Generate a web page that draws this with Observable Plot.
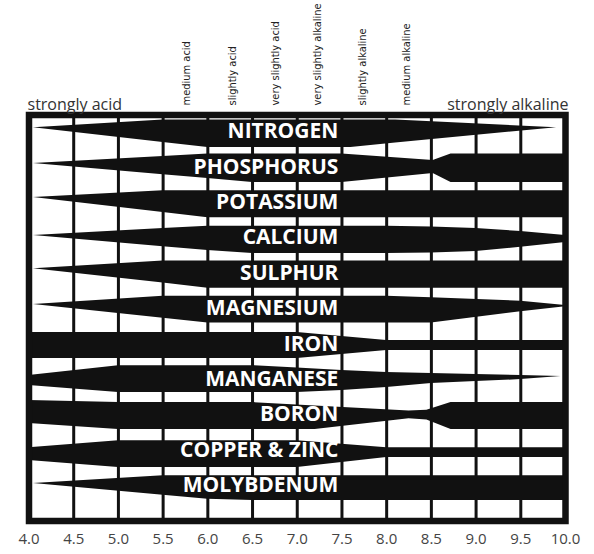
<!DOCTYPE html>
<html>
<head>
<meta charset="utf-8">
<script src="https://cdn.jsdelivr.net/npm/d3@7"></script>
<script src="https://cdn.jsdelivr.net/npm/@observablehq/plot@0.6"></script>
<style>
  html, body { margin: 0; padding: 0; background: #fff; }
  #chart { width: 594px; height: 554px; }
</style>
</head>
<body>
<div id="chart"></div>
<script>
// pH tick labels along the bottom
const phTicks = [4, 4.5, 5, 5.5, 6, 6.5, 7, 7.5, 8, 8.5, 9, 9.5, 10];

// nutrient rows (top to bottom)
const nutrients = ["NITROGEN", "PHOSPHORUS", "POTASSIUM", "CALCIUM", "SULPHUR", "MAGNESIUM",
                   "IRON", "MANGANESE", "BORON", "COPPER & ZINC", "MOLYBDENUM"];

// zone names written vertically above the chart, and the pH they sit at
const zoneNames = ["medium acid", "slightly acid", "very slightly acid",
                   "very slightly alkaline", "slightly alkaline", "medium alkaline"];
const zonePH = [5.73, 6.25, 6.73, 7.2, 7.7, 8.2];

// availability profiles: [pH, upper edge, lower edge] (−1 = full upward, +1 = full downward)
const nitrogen   = [[4.05,-0.45,-0.45],[5.5,-1,0.6],[6.0,-1,0.96],[7.6,-1,0.96],[8.1,-1,0.65],[9.9,-0.45,-0.45]];
const phosphorus = [[4.05,-0.42,-0.42],[5.5,-0.93,0.38],[6.0,-1.1,0.65],[6.5,-1.1,0.94],[7.5,-1.1,0.94],[8.52,-0.64,0.3],[8.72,-1.1,0.94],[10,-1.1,0.94]];
const potassium  = [[4.05,-0.52,-0.52],[5.5,-1,0.55],[6.0,-1,0.92],[10,-1,0.92]];
const calcium    = [[4.05,-0.34,-0.34],[5.5,-0.84,0.46],[6.0,-1,0.74],[6.5,-1,0.95],[8.0,-1,0.95],[8.5,-0.95,0.92],[9.0,-0.84,0.8],[9.5,-0.62,0.5],[10,-0.34,0.16]];
const sulphur    = [[4.05,-0.5,-0.5],[5.5,-1.05,0.52],[6.0,-1.05,0.9],[10,-1.05,0.9]];
const magnesium  = [[4.05,-0.46,-0.46],[5.5,-1.05,0.51],[6.0,-1.05,0.85],[8.0,-1.05,0.85],[8.5,-0.95,0.85],[9.5,-0.7,0.05],[10,-0.4,-0.3]];
const iron       = [[4.0,-1,0.86],[7.0,-1,0.86],[8.0,-0.42,0.29],[10,-0.42,0.29]];
const manganese  = [[4.0,-0.45,0.26],[5.0,-1.16,0.76],[6.5,-1.16,0.76],[7.0,-0.99,0.76],[7.5,-0.81,0.62],[8.0,-0.66,0.41],[8.5,-0.59,0.12],[9.0,-0.52,-0.02],[9.5,-0.45,-0.16],[9.95,-0.38,-0.38]];
const boron      = [[4.0,-1.19,0.45],[5.0,-1.05,0.88],[6.5,-1.05,0.88],[7.2,-0.81,0.88],[8.25,-0.45,0.1],[8.45,-0.5,0.2],[8.72,-1.05,0.88],[10,-1.05,0.88]];
const copperZinc = [[4.0,-0.36,0.56],[5.0,-0.86,1.06],[7.0,-0.86,1.06],[8.0,-0.36,0.35],[10,-0.36,0.35]];
const molybdenum = [[4.05,-0.32,-0.32],[5.5,-0.89,0.51],[6.0,-0.89,0.8],[6.5,-0.89,0.89],[10,-0.89,0.89]];

const profiles = [nitrogen, phosphorus, potassium, calcium, sulphur, magnesium,
                  iron, manganese, boron, copperZinc, molybdenum];

// layout constants
const HALF = 0.395;        // half band thickness in row units
const LABEL_PH = 7.46;     // right edge of the band names

const bands = profiles.flatMap((pts, i) =>
  pts.map(([ph, up, lo]) => ({name: nutrients[i], ph, y1: i + up * HALF, y2: i + lo * HALF}))
);
const labels = nutrients.map((name, i) => ({name, row: i}));
const zones = zoneNames.map((name, i) => ({name, ph: zonePH[i]}));

const chart = Plot.plot({
  width: 594,
  height: 554,
  marginLeft: 28.5,
  marginRight: 29,
  marginTop: 114.5,
  marginBottom: 33.5,
  style: {fontFamily: "'Open Sans', sans-serif", background: "#fff", color: "#444"},
  x: {domain: [4, 10], axis: null},
  y: {domain: [10.93, -0.537], axis: null},
  marks: [
    Plot.ruleX(phTicks, {x: d => d, stroke: "#111", strokeWidth: 3}),
    Plot.area(bands, {x1: "ph", y1: "y1", y2: "y2", z: "name", fill: "#111", curve: "linear"}),
    Plot.frame({stroke: "#111", strokeWidth: 6.5}),
    Plot.text(labels, {x: () => LABEL_PH, y: "row", text: "name", textAnchor: "end", dy: -2.5,
      fill: "#fff", fontWeight: "bold", fontSize: 21, fontFamily: "'Open Sans', sans-serif"}),
    Plot.axisX({ticks: phTicks, tickFormat: d3.format(".1f"), tickSize: 0, tickPadding: 12,
      fontSize: 15, label: null, fill: "#444"}),
    Plot.text(["strongly acid"], {x: () => 4, frameAnchor: "top", dy: -16, dx: -1.5,
      textAnchor: "start", fontSize: 16, fill: "#333"}),
    Plot.text(["strongly alkaline"], {x: () => 10, frameAnchor: "top", dy: -16, dx: 3,
      textAnchor: "end", fontSize: 16, fill: "#333"}),
    Plot.text(zones, {x: "ph", text: "name", frameAnchor: "top", dy: -9.5, dx: -2, rotate: -90,
      textAnchor: "start", fontSize: 11, fill: "#222",
      fontFamily: "'Liberation Sans Narrow', 'DejaVu Sans Condensed', sans-serif"})
  ]
});
document.getElementById("chart").append(chart);
</script>
</body>
</html>
